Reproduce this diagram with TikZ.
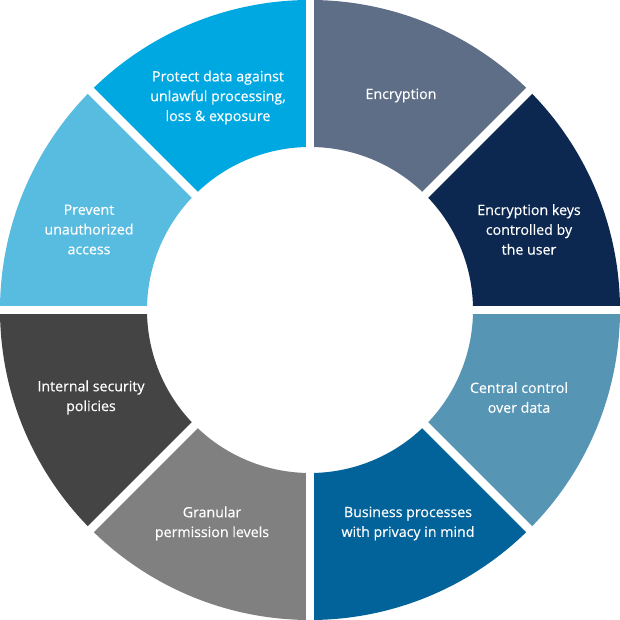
\documentclass[tikz,border=0pt]{standalone}
\usepackage{fontspec}
\setmainfont{Open Sans}[FakeBold=0.3]
\definecolor{cEnc}{HTML}{5E6E87}
\definecolor{cKeys}{HTML}{0C2850}
\definecolor{cCentral}{HTML}{5795B5}
\definecolor{cBus}{HTML}{02639A}
\definecolor{cGran}{HTML}{808080}
\definecolor{cInt}{HTML}{444444}
\definecolor{cPrev}{HTML}{58BCE0}
\definecolor{cProt}{HTML}{00A8E2}
\tikzset{
  lbl/.style={text=white, align=center, font=\fontsize{14.2}{19.8}\selectfont, inner sep=0pt},
  gapline/.style={draw=white, line width=8.4pt}
}
\newcommand{\seg}[3]{%
  \fill[#3] ([shift={(#1:310)}]c) arc[start angle=#1, end angle=#2, radius=310]
    -- ([shift={(#2:163)}]c) arc[start angle=#2, end angle=#1, radius=163] -- cycle;}
\begin{document}
\begin{tikzpicture}[x=1pt,y=1pt]
\useasboundingbox (0,0) rectangle (620,620);
\coordinate (c) at (310,310);
\seg{45}{90}{cEnc}
\seg{0}{45}{cKeys}
\seg{-45}{0}{cCentral}
\seg{-90}{-45}{cBus}
\seg{225}{270}{cGran}
\seg{180}{225}{cInt}
\seg{135}{180}{cPrev}
\seg{90}{135}{cProt}
\foreach \a in {0,45,90,135}{
  \draw[gapline] ([shift={(\a:315)}]c) -- ([shift={(\a+180:315)}]c);
}
\node[lbl] (prot) at (218,522.5) {Protect data against\\unlawful processing,\\loss \& exposure};
\node[lbl] (enc) at (401,524.5) {Encryption};
\node[lbl] (keys) at (529,390.5) {Encryption keys\\controlled by\\the user};
\node[lbl] (central) at (519,222.5) {Central control\\over data};
\node[lbl] (bus) at (408,96.5) {Business processes\\with privacy in mind};
\node[lbl] (gran) at (212,96.5) {Granular\\permission levels};
\node[lbl] (int) at (91,222.5) {Internal security\\policies};
\node[lbl] (prev) at (89,390.5) {Prevent\\unauthorized\\access};
\end{tikzpicture}
\end{document}
